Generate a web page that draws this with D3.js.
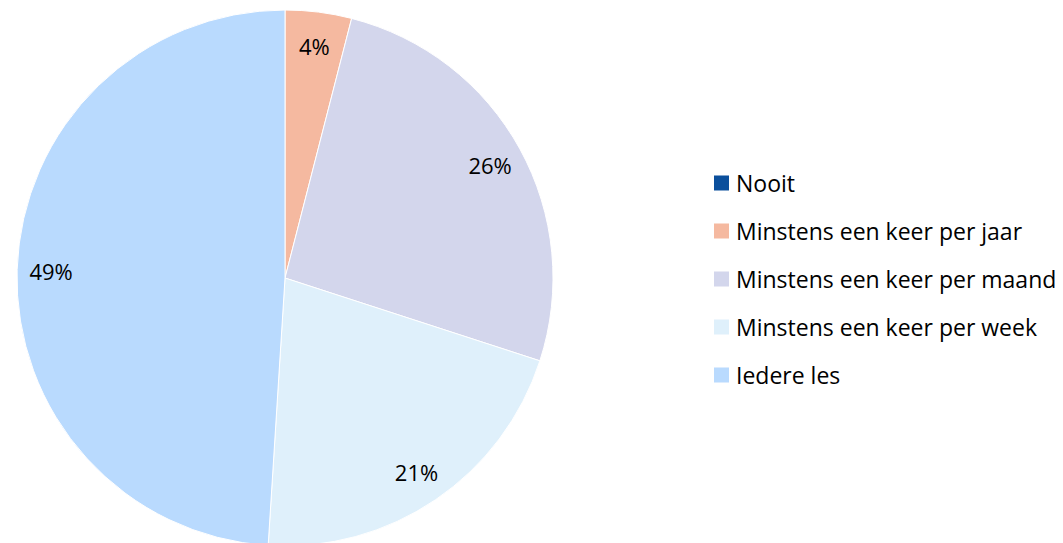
<!DOCTYPE html>
<html>
<head>
<meta charset="utf-8">
<script src="https://cdn.jsdelivr.net/npm/d3@7"></script>
<style>
  body { margin: 0; background: #fff; }
  text { font-family: "Open Sans", "Noto Sans", sans-serif; fill: #000; }
</style>
</head>
<body>
<div id="chart"></div>
<script>
const categories = [
  "Nooit",
  "Minstens een keer per jaar",
  "Minstens een keer per maand",
  "Minstens een keer per week",
  "Iedere les"
];
const values = [0, 4, 26, 21, 49];
const colors = ["#0b4f9c", "#f5b9a0", "#d3d6ec", "#dff0fb", "#b9dafe"];

const width = 1063, height = 543;
const cx = 285, cy = 278, radius = 268;

const svg = d3.select("#chart")
  .append("svg")
  .attr("width", width)
  .attr("height", height);

const data = categories.map((c, i) => ({ name: c, value: values[i] }));

const color = d3.scaleOrdinal().domain(categories).range(colors);

const pie = d3.pie().sort(null).value((d) => d.value);
const arc = d3.arc().innerRadius(0).outerRadius(radius);
const labelArc = d3.arc().innerRadius(234).outerRadius(234);

const g = svg.append("g").attr("transform", "translate(" + cx + "," + cy + ")");

const arcs = pie(data);

g.selectAll("path")
  .data(arcs)
  .join("path")
  .attr("d", arc)
  .attr("fill", (d) => color(d.data.name))
  .attr("stroke", "#fff")
  .attr("stroke-width", 1);

g.selectAll(".lbl")
  .data(arcs.filter((d) => d.data.value > 0))
  .join("text")
  .attr("class", "lbl")
  .attr("transform", (d) => "translate(" + labelArc.centroid(d) + ")")
  .attr("text-anchor", "middle")
  .attr("dominant-baseline", "central")
  .style("font-size", "22px")
  .text((d) => d.data.value + "%");

const legend = svg.append("g").attr("transform", "translate(714,183)");
const item = legend.selectAll("g")
  .data(categories)
  .join("g")
  .attr("transform", (d, i) => "translate(0," + i * 48 + ")");
item.append("rect")
  .attr("x", 0)
  .attr("y", -7.5)
  .attr("width", 15)
  .attr("height", 15)
  .attr("fill", (d) => color(d));
item.append("text")
  .attr("x", 22)
  .attr("y", 0)
  .attr("dominant-baseline", "central")
  .style("font-size", "23px")
  .text((d) => d);
</script>
</body>
</html>
